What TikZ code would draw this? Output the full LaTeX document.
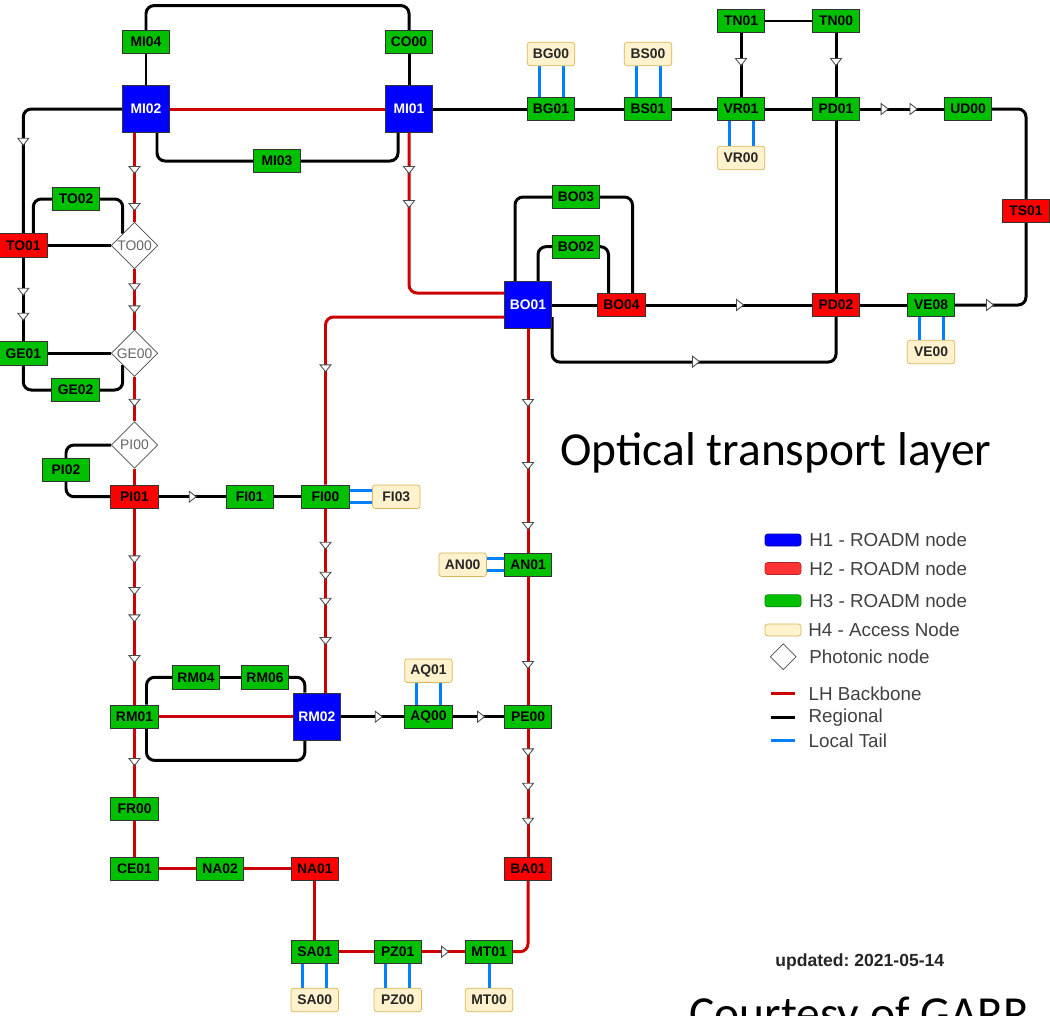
\documentclass[tikz,border=0pt]{standalone}
\usepackage{fontspec}
\setmainfont{Liberation Sans}
\newfontfamily\slidefont{Carlito}
\usepackage{tikz}
\usetikzlibrary{arrows.meta,positioning,shapes.geometric,calc,backgrounds}
\definecolor{roadmblue}{RGB}{0,0,255}
\definecolor{roadmred}{RGB}{255,0,0}
\definecolor{roadmgreen}{RGB}{0,192,0}
\definecolor{accessfill}{RGB}{255,242,204}
\definecolor{accessdraw}{RGB}{214,182,86}
\definecolor{backbonered}{RGB}{204,0,0}
\definecolor{tailblue}{RGB}{0,127,255}
\definecolor{legendtext}{RGB}{64,64,64}
\tikzset{fmark/.pic={\draw[draw=black!70, fill=white, line width=0.5pt] (3.5,0) -- (-3.5,5.5) -- (-3.5,-5.5) -- cycle;}}
\frenchspacing

\begin{document}
\begin{tikzpicture}[x=0.02cm, y=-0.02cm,
    roadm/.style={draw=black!80, fill=#1, minimum width=0.95cm, minimum height=0.47cm, inner sep=0pt, font={\fontsize{7.9}{9}\selectfont\bfseries}},
    hub/.style={roadm=roadmblue, minimum height=0.95cm, text=white},
    access/.style={draw=accessdraw, fill=accessfill, rounded corners=1.5pt, minimum width=0.95cm, minimum height=0.47cm, inner sep=0pt, font={\fontsize{7.9}{9}\selectfont\bfseries}, text=black!85},
    photonic/.style={diamond, draw=black!70, fill=white, minimum width=0.93cm, minimum height=0.93cm, inner sep=0pt, text=black!60, font={\fontsize{7.9}{9}\selectfont}},
    regline/.style={line width=1.7pt, black, rounded corners=0.16cm},
    lhline/.style={line width=1.7pt, backbonered, rounded corners=0.16cm},
    tailline/.style={line width=1.7pt, tailblue},
    legbox/.style={draw=#1!70!black, fill=#1, rounded corners=1.5pt, minimum width=0.72cm, minimum height=0.24cm, inner sep=0pt},
    legtext/.style={anchor=west, inner sep=0pt, text=legendtext, font={\fontsize{10.7}{12}\selectfont}}
]
\useasboundingbox (0,0) rectangle (1050,1015);
\clip (0,0) rectangle (1050,1015);

% west side
\node[roadm=roadmgreen] (MI04) at (146,42) {MI04};
\node[roadm=roadmgreen] (CO00) at (409,42) {CO00};
\node[hub] (MI02) at (146,109) {MI02};
\node[hub] (MI01) at (409,109) {MI01};
\node[roadm=roadmgreen] (MI03) at (277,161) {MI03};
\node[roadm=roadmgreen] (TO02) at (76,199) {TO02};
\node[roadm=roadmred] (TO01) at (23.3,245.5) {TO01};
\node[photonic] (TO00) at (134.5,245.5) {TO00};
\node[roadm=roadmgreen] (GE01) at (23.3,353.3) {GE01};
\node[photonic] (GE00) at (134.5,353.3) {GE00};
\node[roadm=roadmgreen] (GE02) at (75.5,390) {GE02};
\node[photonic] (PI00) at (134.5,445) {PI00};
\node[roadm=roadmgreen] (PI02) at (66,470) {PI02};
\node[roadm=roadmred] (PI01) at (134.5,496.7) {PI01};
\node[roadm=roadmgreen] (FI01) at (249.7,496.7) {FI01};
\node[roadm=roadmgreen] (FI00) at (325.5,496.7) {FI00};
\node[access] (FI03) at (396.3,496.7) {FI03};

% north-east
\node[roadm=roadmgreen] (BG01) at (551,109) {BG01};
\node[roadm=roadmgreen] (BS01) at (648,109) {BS01};
\node[roadm=roadmgreen] (VR01) at (741,109) {VR01};
\node[roadm=roadmgreen] (PD01) at (836,109) {PD01};
\node[roadm=roadmgreen] (UD00) at (968,109) {UD00};
\node[access] (BG00) at (551,54) {BG00};
\node[access] (BS00) at (648,54) {BS00};
\node[access] (VR00) at (741,158) {VR00};
\node[roadm=roadmgreen] (TN01) at (741,21) {TN01};
\node[roadm=roadmgreen] (TN00) at (836,21) {TN00};
\node[roadm=roadmred] (TS01) at (1026,211) {TS01};
\node[hub] (BO01) at (528,305) {BO01};
\node[roadm=roadmgreen] (BO03) at (576,197) {BO03};
\node[roadm=roadmgreen] (BO02) at (576,246.7) {BO02};
\node[roadm=roadmred] (BO04) at (621.5,305) {BO04};
\node[roadm=roadmred] (PD02) at (836,305) {PD02};
\node[roadm=roadmgreen] (VE08) at (931,305) {VE08};
\node[access] (VE00) at (931,352) {VE00};

% south
\node[roadm=roadmgreen] (AN01) at (528,564.7) {AN01};
\node[access] (AN00) at (462.7,564.7) {AN00};
\node[roadm=roadmgreen] (RM01) at (134.5,716.7) {RM01};
\node[hub] (RM02) at (316.8,716.7) {RM02};
\node[roadm=roadmgreen] (RM04) at (196,677.3) {RM04};
\node[roadm=roadmgreen] (RM06) at (265,677.3) {RM06};
\node[roadm=roadmgreen] (AQ00) at (428.4,716.7) {AQ00};
\node[access] (AQ01) at (428.4,670.7) {AQ01};
\node[roadm=roadmgreen] (PE00) at (528,716.7) {PE00};
\node[roadm=roadmgreen] (FR00) at (134.5,809) {FR00};
\node[roadm=roadmgreen] (CE01) at (134.5,868.7) {CE01};
\node[roadm=roadmgreen] (NA02) at (220,868.7) {NA02};
\node[roadm=roadmred] (NA01) at (314.8,868.7) {NA01};
\node[roadm=roadmred] (BA01) at (528,868.7) {BA01};
\node[roadm=roadmgreen] (SA01) at (314.8,951.7) {SA01};
\node[roadm=roadmgreen] (PZ01) at (397.8,951.7) {PZ01};
\node[roadm=roadmgreen] (MT01) at (489,951.7) {MT01};
\node[access] (SA00) at (314.8,1000) {SA00};
\node[access] (PZ00) at (397.8,1000) {PZ00};
\node[access] (MT00) at (489,1000) {MT00};

\begin{scope}[on background layer]
% LH backbone
\draw[lhline] (MI02.east) -- (MI01.west);
\draw[lhline] (MI02.south -| TO00) -- (TO00.north);
\draw[lhline] (TO00.south) -- (GE00.north);
\draw[lhline] (GE00.south) -- (PI00.north);
\draw[lhline] (PI00.south) -- (PI01.north);
\draw[lhline] (PI01.south) -- (RM01.north);
\draw[lhline] (RM01.east) -- (RM02.west);
\draw[lhline] (RM01.south) -- (FR00.north);
\draw[lhline] (FR00.south) -- (CE01.north);
\draw[lhline] (CE01.east) -- (NA02.west);
\draw[lhline] (NA02.east) -- (NA01.west);
\draw[lhline] (NA01.south) -- (SA01.north);
\draw[lhline] (SA01.east) -- (PZ01.west);
\draw[lhline] (PZ01.east) -- (MT01.west);
\draw[lhline] (MT01.east) -| (BA01.south);
\draw[lhline] (BA01.north) -- (PE00.south);
\draw[lhline] (PE00.north) -- (AN01.south);
\draw[lhline] (AN01.north) -- (BO01.south);
\draw[lhline] (MI01.south) |- ([yshift=0.24cm]BO01.west);
\draw[lhline] ([yshift=-0.24cm]BO01.west) -| (FI00.north);
\draw[lhline] (FI00.south) -- (FI00.south |- RM02.north);

% regional
\draw[regline] (MI04.north) -- ++(0,-24.3) -| (CO00.north);
\draw[regline] (MI04.south) -- (MI02.north);
\draw[regline] (CO00.south) -- (MI01.north);
\draw[regline] ([xshift=0.22cm]MI02.south) |- (MI03.west);
\draw[regline] (MI03.east) -| ([xshift=-0.22cm]MI01.south);
\draw[regline] (MI02.west) -| (TO01.north);
\draw[regline] ([xshift=0.2cm]TO01.north) |- (TO02.west);
\draw[regline] (TO02.east) -| (TO00.north west);
\draw[regline] (TO01.east) -- (TO00.west);
\draw[regline] (TO01.south) -- (GE01.north);
\draw[regline] (GE01.east) -- (GE00.west);
\draw[regline] (GE01.south) |- (GE02.west);
\draw[regline] (GE02.east) -| (GE00.south west);
\draw[regline] (PI00.west) -| (PI02.north);
\draw[regline] (PI02.south) |- (PI01.west);
\draw[regline] (PI01.east) -- (FI01.west);
\draw[regline] (FI01.east) -- (FI00.west);
\draw[regline] (MI01.east) -- (BG01.west);
\draw[regline] (BG01.east) -- (BS01.west);
\draw[regline] (BS01.east) -- (VR01.west);
\draw[regline] (VR01.east) -- (PD01.west);
\draw[regline] (PD01.east) -- (UD00.west);
\draw[regline] (TN01.east) -- (TN00.west);
\draw[regline] (TN01.south) -- (VR01.north);
\draw[regline] (TN00.south) -- (PD01.north);
\draw[regline] (UD00.east) -| (TS01.north);
\draw[regline] (TS01.south) |- (VE08.east);
\draw[regline] (PD01.south) -- (PD02.north);
\draw[regline] (PD02.east) -- (VE08.west);
\draw[regline] (BO01.east) -- (BO04.west);
\draw[regline] (BO04.east) -- (PD02.west);
\draw[regline] ([xshift=-0.26cm]BO01.north) |- (BO03.west);
\draw[regline] (BO03.east) -| ([xshift=0.22cm]BO04.north);
\draw[regline] ([xshift=0.2cm]BO01.north) |- (BO02.west);
\draw[regline] (BO02.east) -| ([xshift=-0.26cm]BO04.north);
\draw[regline] ([yshift=0.24cm]BO01.south east) -- ++(0,45) -| (PD02.south);
\draw[regline] ([xshift=0.24cm]RM01.north) |- (RM04.west);
\draw[regline] (RM04.east) -- (RM06.west);
\draw[regline] (RM06.east) -| ([xshift=-0.24cm]RM02.north);
\draw[regline] ([xshift=0.24cm]RM01.south) -- ++(0,31.6) -| ([xshift=-0.24cm]RM02.south);
\draw[regline] (RM02.east) -- (AQ00.west);
\draw[regline] (AQ00.east) -- (PE00.west);

% local tails
\draw[tailline] ([xshift=-0.24cm]BG00.south) -- ([xshift=-0.24cm]BG01.north);
\draw[tailline] ([xshift=0.24cm]BG00.south) -- ([xshift=0.24cm]BG01.north);
\draw[tailline] ([xshift=-0.24cm]BS00.south) -- ([xshift=-0.24cm]BS01.north);
\draw[tailline] ([xshift=0.24cm]BS00.south) -- ([xshift=0.24cm]BS01.north);
\draw[tailline] ([xshift=-0.24cm]VR01.south) -- ([xshift=-0.24cm]VR00.north);
\draw[tailline] ([xshift=0.24cm]VR01.south) -- ([xshift=0.24cm]VR00.north);
\draw[tailline] ([xshift=-0.24cm]VE08.south) -- ([xshift=-0.24cm]VE00.north);
\draw[tailline] ([xshift=0.24cm]VE08.south) -- ([xshift=0.24cm]VE00.north);
\draw[tailline] ([yshift=0.12cm]FI00.east) -- ([yshift=0.12cm]FI03.west);
\draw[tailline] ([yshift=-0.12cm]FI00.east) -- ([yshift=-0.12cm]FI03.west);
\draw[tailline] ([yshift=0.12cm]AN00.east) -- ([yshift=0.12cm]AN01.west);
\draw[tailline] ([yshift=-0.12cm]AN00.east) -- ([yshift=-0.12cm]AN01.west);
\draw[tailline] ([xshift=-0.24cm]AQ01.south) -- ([xshift=-0.24cm]AQ00.north);
\draw[tailline] ([xshift=0.24cm]AQ01.south) -- ([xshift=0.24cm]AQ00.north);
\draw[tailline] ([xshift=-0.24cm]SA01.south) -- ([xshift=-0.24cm]SA00.north);
\draw[tailline] ([xshift=0.24cm]SA01.south) -- ([xshift=0.24cm]SA00.north);
\draw[tailline] ([xshift=-0.24cm]PZ01.south) -- ([xshift=-0.24cm]PZ00.north);
\draw[tailline] ([xshift=0.24cm]PZ01.south) -- ([xshift=0.24cm]PZ00.north);
\draw[tailline] (MT01.south) -- (MT00.north);
\end{scope}

% direction marks
\foreach \mx/\my in {23.3/141.7, 23.3/291.7, 23.3/316.7, 741/62, 836/62,
    134.5/170, 134.5/207, 134.5/287.3, 134.5/309.3, 134.5/402.7,
    409/170, 409/204, 325.5/368.3,
    134.5/559.3, 134.5/591, 134.5/618.3, 134.5/659, 134.5/762,
    325.5/545.7, 325.5/575.7, 325.5/601.7, 325.5/641,
    528/403, 528/466, 528/526, 528/665, 528/752.3, 528/786.7, 528/821.7}
  \pic[rotate=-90] at (\mx,\my) {fmark};
\foreach \mx/\my in {192.7/496.7, 884.6/109, 913.5/109, 740/305, 990/305,
    696/361.7, 378.7/716.7, 481/716.7, 445/951.7}
  \pic at (\mx,\my) {fmark};

% legend
\node[legbox=roadmblue] (kh1) at (783,540) {};
\node[legbox=roadmred!80!white] (kh2) at (783,568.5) {};
\node[legbox=roadmgreen] (kh3) at (783,600.8) {};
\node[legbox=accessfill, draw=accessdraw] (kh4) at (783,630) {};
\node[diamond, draw=black!70, minimum width=0.52cm, minimum height=0.52cm, inner sep=0pt] (kph) at (783.3,656.7) {};
\draw[lhline] (771,693.3) -- (795,693.3);
\draw[regline] (771,717.3) -- (795,717.3);
\draw[tailline] (771,740.7) -- (795,740.7);
\node[legtext] at (809,540) {H1 - ROADM node};
\node[legtext] at (809,569) {H2 - ROADM node};
\node[legtext] at (809,600.8) {H3 - ROADM node};
\node[legtext] at (808,630) {H4 - Access Node};
\node[legtext] at (809,656.7) {Photonic node};
\node[legtext] at (808.3,693.3) {LH Backbone};
\node[legtext] at (808.3,717.3) {Regional};
\node[legtext] at (808.3,740.7) {Local Tail};

\node[anchor=base west, inner sep=0pt, font={\slidefont\fontsize{27}{32}\selectfont}] (title) at (560,465) {Optical transport layer};
\node[anchor=west, inner sep=0pt, text=black!85, font={\fontsize{10}{12}\selectfont\bfseries}] (upd) at (775,961.7) {updated: 2021-05-14};
\node[anchor=base west, inner sep=0pt, font={\slidefont\fontsize{27}{32}\selectfont}] (credit) at (689,1029) {Courtesy of GARR};
\end{tikzpicture}
\end{document}
